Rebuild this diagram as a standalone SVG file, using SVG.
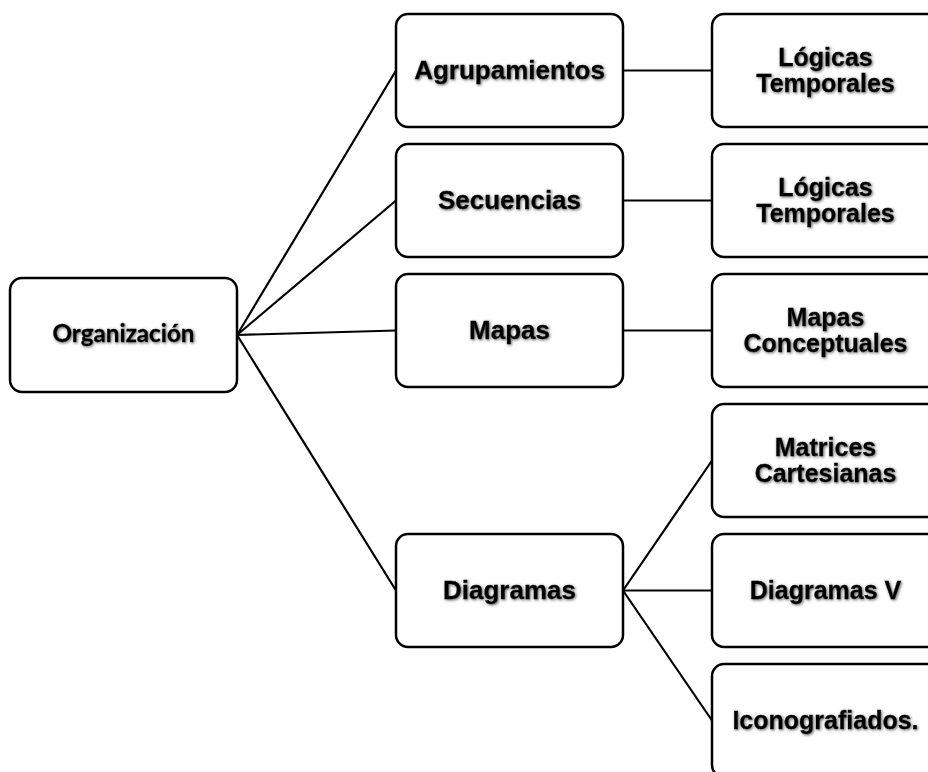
<svg xmlns="http://www.w3.org/2000/svg" width="928" height="772" viewBox="0 0 928 772">
<defs>
<filter id="sh" x="-10%" y="-30%" width="120%" height="160%">
<feGaussianBlur in="SourceAlpha" stdDeviation="1.6" result="b"/>
<feOffset in="b" dx="1" dy="1" result="o"/>
<feFlood flood-color="#444" flood-opacity="0.85"/>
<feComposite in2="o" operator="in" result="s"/>
<feMerge><feMergeNode in="s"/><feMergeNode in="SourceGraphic"/></feMerge>
</filter>
</defs>
<style>
.box{fill:#fff;stroke:#000;stroke-width:2.5}
.t{font-family:"Liberation Sans",Arial,sans-serif;font-weight:bold;font-size:26px;fill:#000;stroke:#000;stroke-width:0.3;text-anchor:middle;filter:url(#sh)}
.r{font-size:25px}
.o{font-family:Lato,"Liberation Sans",sans-serif;font-size:24px}
.c{fill:none;stroke:#000;stroke-width:2.2}
</style>
<rect width="928" height="772" fill="#fff"/>
<g id="connectors">
<line class="c" x1="237" y1="335" x2="396" y2="70.5"/>
<line class="c" x1="237" y1="335" x2="396" y2="200.5"/>
<line class="c" x1="237" y1="335" x2="396" y2="330.5"/>
<line class="c" x1="237" y1="335" x2="396" y2="590.5"/>
<line class="c" x1="623" y1="70.5" x2="712" y2="70.5"/>
<line class="c" x1="623" y1="200.5" x2="712" y2="200.5"/>
<line class="c" x1="623" y1="330.5" x2="712" y2="330.5"/>
<line class="c" x1="623" y1="590.5" x2="712" y2="460.5"/>
<line class="c" x1="623" y1="590.5" x2="712" y2="590.5"/>
<line class="c" x1="623" y1="590.5" x2="712" y2="720.5"/>
</g>
<g id="organizacion">
<rect class="box" x="10" y="278" width="227" height="114" rx="12"/>
<text class="t o" x="123.5" y="342" textLength="142" lengthAdjust="spacingAndGlyphs">Organización</text>
</g>
<g id="agrupamientos">
<rect class="box" x="396" y="14" width="227" height="113" rx="12"/>
<text class="t" x="509.5" y="79">Agrupamientos</text>
</g>
<g id="secuencias">
<rect class="box" x="396" y="144" width="227" height="113" rx="12"/>
<text class="t" x="509.5" y="209">Secuencias</text>
</g>
<g id="mapas">
<rect class="box" x="396" y="274" width="227" height="113" rx="12"/>
<text class="t" x="509.5" y="339">Mapas</text>
</g>
<g id="diagramas">
<rect class="box" x="396" y="534" width="227" height="113" rx="12"/>
<text class="t" x="509.5" y="599">Diagramas</text>
</g>
<g id="logicas1">
<rect class="box" x="712" y="14" width="227" height="113" rx="12"/>
<text class="t r" x="825.5"><tspan x="825.5" y="66">Lógicas</tspan><tspan x="825.5" y="92">Temporales</tspan></text>
</g>
<g id="logicas2">
<rect class="box" x="712" y="144" width="227" height="113" rx="12"/>
<text class="t r" x="825.5"><tspan x="825.5" y="196">Lógicas</tspan><tspan x="825.5" y="222">Temporales</tspan></text>
</g>
<g id="mapasconceptuales">
<rect class="box" x="712" y="274" width="227" height="113" rx="12"/>
<text class="t r" x="825.5"><tspan x="825.5" y="326">Mapas</tspan><tspan x="825.5" y="352">Conceptuales</tspan></text>
</g>
<g id="matrices">
<rect class="box" x="712" y="404" width="227" height="113" rx="12"/>
<text class="t r" x="825.5"><tspan x="825.5" y="456">Matrices</tspan><tspan x="825.5" y="482">Cartesianas</tspan></text>
</g>
<g id="diagramasv">
<rect class="box" x="712" y="534" width="227" height="113" rx="12"/>
<text class="t r" x="825.5" y="599">Diagramas V</text>
</g>
<g id="iconografiados">
<rect class="box" x="712" y="664" width="227" height="113" rx="12"/>
<text class="t r" x="825.5" y="729">Iconografiados.</text>
</g>
</svg>
